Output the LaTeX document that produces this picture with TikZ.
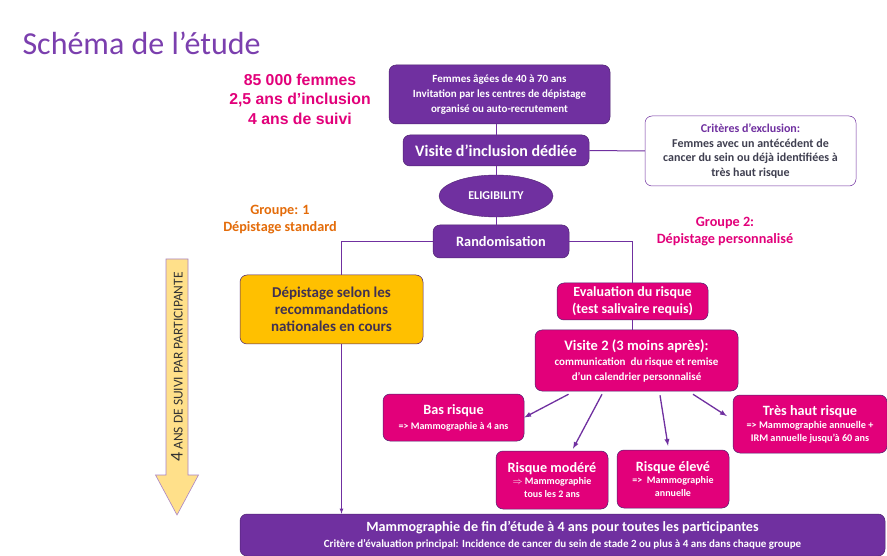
\documentclass[tikz,border=0pt]{standalone}
\usepackage{fontspec}
\setmainfont{Carlito}
\newfontfamily\arialfont{Liberation Sans}
\usetikzlibrary{shapes.geometric}
\definecolor{violet}{HTML}{7030A0}
\definecolor{rose}{HTML}{E2007A}
\definecolor{titre}{HTML}{7B3FAE}
\definecolor{orangeg}{HTML}{E46C0A}
\definecolor{jaune}{HTML}{FFC000}
\definecolor{fleche}{HTML}{FFE08A}
\definecolor{gris}{HTML}{3F3F50}
\definecolor{encre}{HTML}{403152}
\begin{document}
\begin{tikzpicture}[x=1pt,y=-1pt,
    boite/.style={rounded corners=7pt, draw=violet!70!black, line width=0.5pt, align=center, text=white, inner sep=0pt},
    violetbox/.style={boite, fill=violet},
    rosebox/.style={boite, fill=rose},
    lien/.style={draw=violet, line width=1pt},
    fl/.style={draw=violet, line width=1.3pt, -latex}]
    \useasboundingbox[fill=white] (0,0) rectangle (887,556);
    \node[anchor=base west, text=titre, font=\fontsize{32}{38}\selectfont] (titre) at (19,55) {Schéma de l’étude};
    \node[align=center, text=rose, font=\arialfont\bfseries\fontsize{15.8}{19.5}\selectfont] (chiffres) at (300,99) {85 000 femmes\\2,5 ans d’inclusion\\4 ans de suivi};
    \node[violetbox, minimum width=221pt, minimum height=59pt, font=\bfseries\fontsize{11}{15}\selectfont] (femmes) at (499.5,94.5) {Femmes âgées de 40 à 70 ans\\Invitation par les centres de dépistage\\organisé ou auto-recrutement};
    \node[violetbox, minimum width=186pt, minimum height=31pt, font=\bfseries\fontsize{16}{18}\selectfont] (visite) at (496,150.5) {Visite d’inclusion dédiée};
    \node[boite, fill=white, draw=violet, minimum width=211pt, minimum height=70pt, text=gris, font=\bfseries\fontsize{12}{14.7}\selectfont] (excl) at (750.5,151) {\textcolor{violet}{Critères d’exclusion:}\\Femmes avec un antécédent de\\cancer du sein ou déjà identifiées à\\très haut risque};
    \node[ellipse, fill=violet, draw=violet!70!black, minimum width=114pt, minimum height=42pt, inner sep=0pt, text=white, font=\bfseries\fontsize{12}{14}\selectfont] (elig) at (496,196) {ELIGIBILITY};
    \node[violetbox, minimum width=136pt, minimum height=33pt, font=\bfseries\fontsize{14.3}{17}\selectfont] (rando) at (501,241.5) {Randomisation};
    \node[align=center, text=orangeg, font=\bfseries\fontsize{14.2}{17}\selectfont] (groupe1) at (280,219.5) {Groupe: 1\\Dépistage standard};
    \node[align=center, text=rose, font=\bfseries\fontsize{14.2}{17}\selectfont] (groupe2) at (725,231.5) {Groupe 2:\\Dépistage personnalisé};
    \node[boite, fill=jaune, minimum width=183pt, minimum height=69pt, text=encre, font=\bfseries\fontsize{15}{16.8}\selectfont] (std) at (331.5,309.5) {Dépistage selon les\\recommandations\\nationales en cours};
    \node[rosebox, minimum width=151pt, minimum height=37pt, font=\bfseries\fontsize{14}{17}\selectfont] (eval) at (632.5,301.5) {Evaluation du risque\\(test salivaire requis)};
    \node[rosebox, minimum width=203pt, minimum height=61pt, font=\bfseries\fontsize{11}{15}\selectfont] (visite2) at (636.5,360.5) {{\fontsize{14.5}{16}\selectfont Visite 2 (3 moins après):}\\communication \ du risque et remise\\d’un calendrier personnalisé};
    \node[rosebox, minimum width=141pt, minimum height=47pt, font=\bfseries\fontsize{10}{15}\selectfont] (bas) at (453.5,417.5) {{\fontsize{14.2}{15}\selectfont Bas risque}\\=> Mammographie à 4 ans};
    \node[rosebox, minimum width=112pt, minimum height=58pt, font=\bfseries\fontsize{10}{12.5}\selectfont] (modere) at (552,480) {{\fontsize{14.2}{16}\selectfont Risque modéré}\\$\Rightarrow$ Mammographie\\tous les 2 ans};
    \node[rosebox, minimum width=112pt, minimum height=58pt, font=\bfseries\fontsize{10}{12.5}\selectfont] (eleve) at (673,479) {{\fontsize{14.2}{16}\selectfont Risque élevé}\\=> \ Mammographie\\annuelle};
    \node[rosebox, minimum width=154pt, minimum height=58pt, font=\bfseries\fontsize{10.2}{13}\selectfont] (tres) at (810,424) {{\fontsize{14.2}{16}\selectfont Très haut risque}\\=> Mammographie annuelle +\\IRM annuelle jusqu’à 60 ans};
    \node[violetbox, minimum width=645pt, minimum height=42pt, font=\bfseries\fontsize{11}{16}\selectfont] (final) at (562.5,535) {{\fontsize{14.1}{16}\selectfont Mammographie de fin d’étude à 4 ans pour toutes les participantes}\\Critère d’évaluation principal: Incidence de cancer du sein de stade 2 ou plus à 4 ans dans chaque groupe};
    \coordinate (g1) at ([xshift=10pt]std.north);
    \coordinate (g2) at ([xshift=10pt]std.south);
    \draw[lien] (femmes.south -| visite.north) -- (visite.north);
    \draw[lien] (visite.east) -- (excl.west);
    \draw[lien] (visite.south) -- (elig.north);
    \draw[lien] (elig.south) -- (elig.south |- rando.north);
    \draw[lien] (rando.west) -| (g1);
    \draw[lien] (rando.east) -| (eval.north);
    \draw[lien] (eval.south) -- (eval.south |- visite2.north);
    \draw[lien, line width=0.8pt, -latex] (g2) -- (g2 |- final.north);
    \draw[fl] ([xshift=-68pt,yshift=-3pt]visite2.south) -- (bas.east);
    \draw[fl] ([xshift=-34.5pt,yshift=-3pt]visite2.south) -- ([xshift=21pt,yshift=2pt]modere.north);
    \draw[fl] ([xshift=23.5pt,yshift=-4pt]visite2.south) -- ([xshift=-5pt,yshift=4pt]eleve.north);
    \draw[fl] ([xshift=56.5pt,yshift=-3pt]visite2.south) -- ([xshift=-6pt,yshift=8pt]tres.west);
    \draw[fill=fleche, draw=violet!60, line width=0.6pt] (166,259) -- (188,259) -- (188,475) -- (198.5,475) -- (177,515) -- (155.5,475) -- (166,475) -- cycle;
    \node[rotate=90, text=black!80, font=\fontsize{13.5}{15}\selectfont] (suivi) at (177,367) {{\fontsize{18}{18}\selectfont 4} ANS DE SUIVI PAR PARTICIPANTE};
\end{tikzpicture}
\end{document}
